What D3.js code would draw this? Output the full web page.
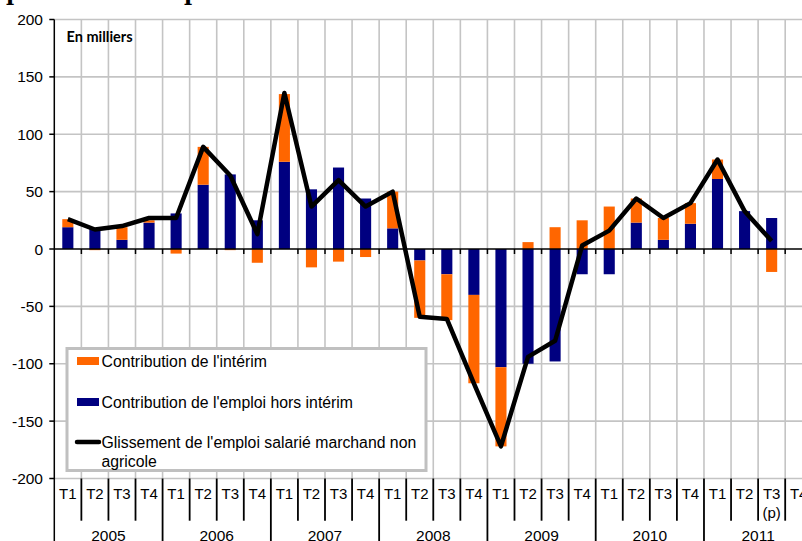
<!DOCTYPE html>
<html>
<head>
<meta charset="utf-8">
<script src="https://cdn.jsdelivr.net/npm/d3@7"></script>
<style>
  body { margin: 0; background: #fff; overflow: hidden; }
  svg { display: block; }
  text { font-family: "Liberation Sans", Arial, sans-serif; fill: #000; }
</style>
</head>
<body>
<svg id="chart" width="802" height="541"></svg>
<script>
// Data (en milliers)
const years = ["2005", "2006", "2007", "2008", "2009", "2010", "2011"];
const quarters = ["T1", "T2", "T3", "T4"];
const interim = [7, -1, 11, 2, -4, 33, -1, -12, 59, -16, -11, -7, 32, -50, -40, -77, -69, 6, 19, 25, 37, 21, 19, 18, 17, 0, -20];
const horsInterim = [19, 18, 8, 23, 31, 56, 65, 25, 76, 52, 71, 44, 18, -10, -22, -40, -103, -100, -98, -22, -22, 23, 8, 22, 61, 33, 27];
const glissement = [26, 17, 20, 27, 27, 89, 64, 13, 136, 37, 60, 37, 50, -59, -61, -117, -172, -94, -80, 3, 16, 44, 27, 40, 78, 33, 7];
const yTicks = [200, 150, 100, 50, 0, -50, -100, -150, -200];

const NAVY = "#000080";
const ORANGE = "#ff6600";
const GRID = "#c4c4c4";

// one slot per quarter, 2011 T4 included (no data, cut by the frame)
const slots = d3.range(years.length * 4);
const rows = interim.map((v, i) => ({ i: i, hors: horsInterim[i], interim: v }));

const svg = d3.select("#chart");

const plotLeft = 54.3, plotTop = 19.5, plotBottom = 478.5;
const step = 27.07;

const x = d3.scaleBand()
    .domain(slots)
    .range([plotLeft, plotLeft + step * slots.length])
    .padding(0);
const y = d3.scaleLinear()
    .domain([-200, 200])
    .range([plotBottom, plotTop]);

const barW = x.bandwidth() * 0.41;

// title, mostly out of frame
svg.append("text")
    .attr("x", 6).attr("y", 0)
    .style("font-family", "'DejaVu Serif', serif")
    .style("font-weight", "bold")
    .style("font-size", "22px")
    .text("p");
svg.append("text")
    .attr("x", 184).attr("y", 0)
    .style("font-family", "'DejaVu Serif', serif")
    .style("font-weight", "bold")
    .style("font-size", "22px")
    .text("p");

// --- Grid ---
const grid = svg.append("g");
grid.selectAll("line.h")
    .data(yTicks.filter(d => d !== 0))
    .enter().append("line")
    .attr("x1", plotLeft).attr("x2", 802)
    .attr("y1", d => y(d)).attr("y2", d => y(d))
    .attr("stroke", GRID).attr("stroke-width", 1.6);
grid.selectAll("line.v")
    .data(slots.slice(1))
    .enter().append("line")
    .attr("x1", d => x(d)).attr("x2", d => x(d))
    .attr("y1", plotTop).attr("y2", plotBottom)
    .attr("stroke", GRID).attr("stroke-width", 1.6);

// --- Stacked bars ---
const stack = d3.stack()
    .keys(["hors", "interim"])
    .offset(d3.stackOffsetDiverging);
const series = stack(rows);
const colors = { hors: NAVY, interim: ORANGE };

svg.append("g").selectAll("g")
    .data(series)
    .enter().append("g")
    .attr("fill", d => colors[d.key])
    .selectAll("rect")
    .data(d => d)
    .enter().append("rect")
    .attr("x", d => x(d.data.i) + (x.bandwidth() - barW) / 2)
    .attr("width", barW)
    .attr("y", d => y(Math.max(d[0], d[1])))
    .attr("height", d => Math.abs(y(d[0]) - y(d[1])));

// --- Zero axis with ticks ---
svg.append("line")
    .attr("x1", plotLeft).attr("x2", 802)
    .attr("y1", y(0)).attr("y2", y(0))
    .attr("stroke", "#000").attr("stroke-width", 1.5);
svg.append("g").selectAll("line")
    .data(slots.slice(1))
    .enter().append("line")
    .attr("x1", d => x(d)).attr("x2", d => x(d))
    .attr("y1", y(0)).attr("y2", y(0) + 5)
    .attr("stroke", "#000").attr("stroke-width", 1.5);

// --- Line ---
const line = d3.line()
    .x((d, i) => x(i) + x.bandwidth() / 2)
    .y(d => y(d));
svg.append("path")
    .datum(glissement)
    .attr("d", line)
    .attr("fill", "none")
    .attr("stroke", "#000")
    .attr("stroke-width", 4.5)
    .attr("stroke-linejoin", "round");

// --- Y axis ---
const yAxis = svg.append("g");
yAxis.append("line")
    .attr("x1", plotLeft).attr("x2", plotLeft)
    .attr("y1", plotTop).attr("y2", 541)
    .attr("stroke", "#000").attr("stroke-width", 1.5);
yAxis.selectAll("line.t")
    .data(yTicks)
    .enter().append("line")
    .attr("x1", plotLeft - 5).attr("x2", plotLeft)
    .attr("y1", d => y(d)).attr("y2", d => y(d))
    .attr("stroke", "#000").attr("stroke-width", 1.5);
yAxis.selectAll("text")
    .data(yTicks)
    .enter().append("text")
    .attr("x", 43)
    .attr("y", d => y(d) + 5.5)
    .attr("text-anchor", "end")
    .style("font-size", "15.5px")
    .text(d => d);

svg.append("text")
    .attr("x", 66.5).attr("y", 42)
    .style("font-family", "Lato, 'Open Sans', sans-serif")
    .style("font-weight", "bold")
    .style("font-size", "14.5px")
    .text("En milliers");

// --- Category axis (multi level) ---
const cat = svg.append("g");
cat.selectAll("line")
    .data(slots.slice(1))
    .enter().append("line")
    .attr("x1", d => x(d)).attr("x2", d => x(d))
    .attr("y1", plotBottom)
    .attr("y2", d => d % 4 === 0 ? 541 : 520.7)
    .attr("stroke", "#000").attr("stroke-width", 1.8);
cat.selectAll("text.q")
    .data(slots)
    .enter().append("text")
    .attr("x", d => x(d) + x.bandwidth() / 2)
    .attr("y", 499)
    .attr("text-anchor", "middle")
    .style("font-size", "15px")
    .text(d => quarters[d % 4]);
cat.append("text")
    .attr("x", x(26) + x.bandwidth() / 2)
    .attr("y", 517.5)
    .attr("text-anchor", "middle")
    .style("font-size", "15px")
    .text("(p)");
cat.selectAll("text.y")
    .data(years)
    .enter().append("text")
    .attr("x", (d, i) => x(i * 4) + x.bandwidth() * 2)
    .attr("y", 541)
    .attr("text-anchor", "middle")
    .style("font-size", "15.5px")
    .text(d => d);

// --- Legend ---
const legend = svg.append("g");
legend.append("rect")
    .attr("x", 67).attr("y", 348.5)
    .attr("width", 359).attr("height", 122)
    .attr("fill", "#fff")
    .attr("stroke", "#c0c0c0").attr("stroke-width", 3);
const legendItems = [
    { label: ["Contribution de l'intérim"], color: ORANGE, y: 361, type: "rect" },
    { label: ["Contribution de l'emploi hors intérim"], color: NAVY, y: 402, type: "rect" },
    { label: ["Glissement de l'emploi salarié marchand non", "agricole"], color: "#000", y: 442, type: "line" }
];
legendItems.forEach(item => {
    if (item.type === "rect") {
        legend.append("rect")
            .attr("x", 77).attr("y", item.y - 4)
            .attr("width", 22).attr("height", 8)
            .attr("fill", item.color);
    } else {
        legend.append("line")
            .attr("x1", 77).attr("x2", 99)
            .attr("y1", item.y).attr("y2", item.y)
            .attr("stroke", item.color).attr("stroke-width", 4.5)
            .attr("stroke-linecap", "round");
    }
    item.label.forEach((t, k) => {
        legend.append("text")
            .attr("x", 101.5)
            .attr("y", item.y + 5.5 + k * 19)
            .style("font-size", "15.8px")
            .text(t);
    });
});
</script>
</body>
</html>
